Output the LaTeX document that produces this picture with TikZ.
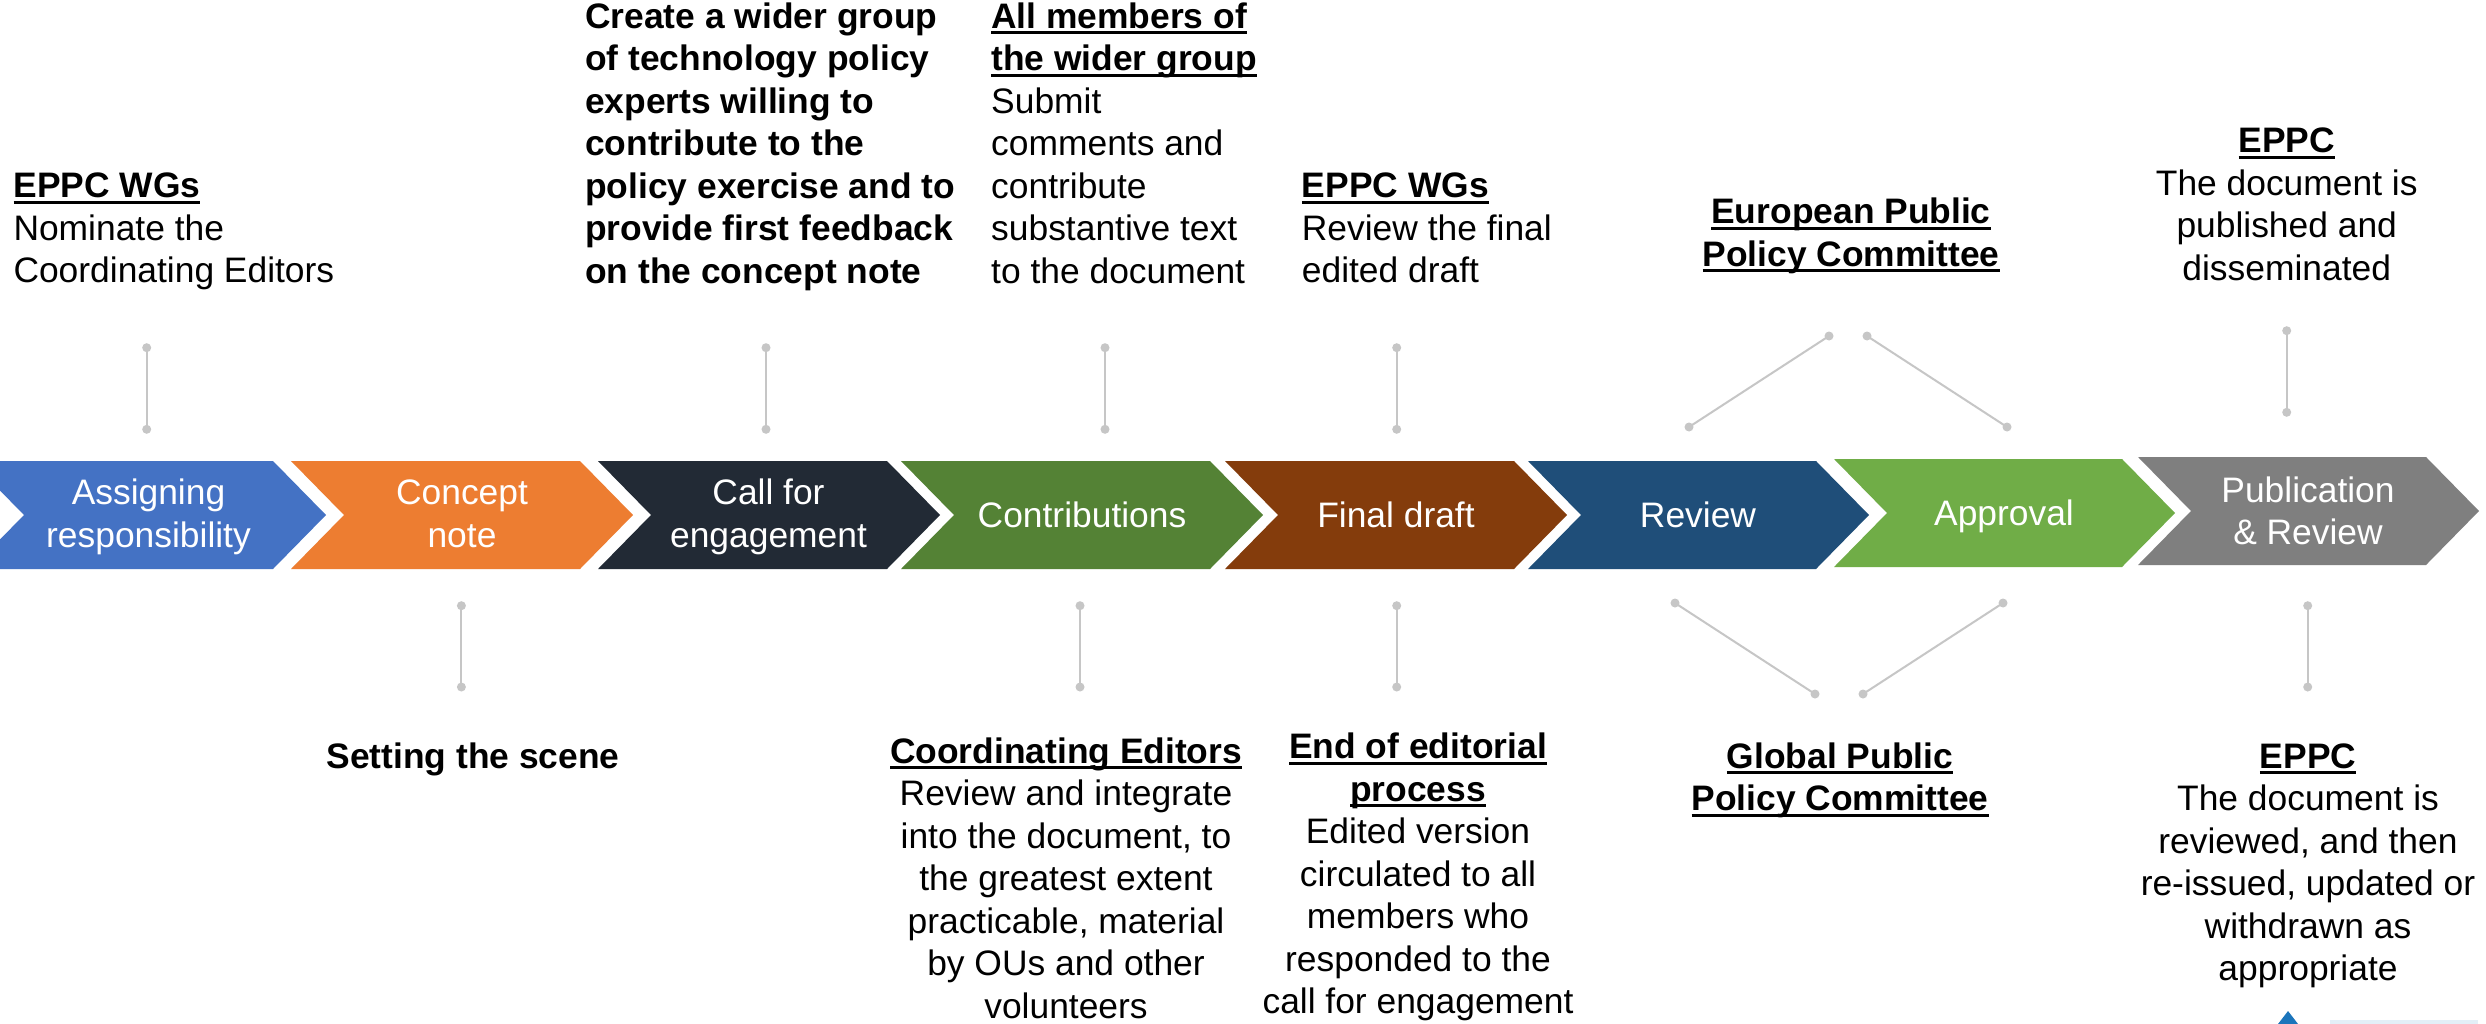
\documentclass[tikz,border=0pt]{standalone}
\usepackage{fontspec}
\setmainfont{Liberation Sans}
\usetikzlibrary{calc}
\definecolor{cblue}{HTML}{4472C4}
\definecolor{corange}{HTML}{ED7D31}
\definecolor{cnavy}{HTML}{222A35}
\definecolor{cgreen}{HTML}{548235}
\definecolor{cbrown}{HTML}{843C0C}
\definecolor{cdblue}{HTML}{1F4E79}
\definecolor{clgreen}{HTML}{70AD47}
\definecolor{cgray}{HTML}{7F7F7F}
\definecolor{linegray}{HTML}{C6C6C6}
\definecolor{logoblue}{HTML}{1B75BB}
\definecolor{logolight}{HTML}{E3EFF7}
\newsavebox\myulbox
\newcommand\myul[1]{\sbox\myulbox{#1}\rlap{\rule[-6pt]{\wd\myulbox}{3pt}}\usebox\myulbox}
\newcommand\mychev[6]{% L, R, T, B, colour, name
  \pgfmathsetmacro\mychevmid{(#3+#4)/2}%
  \fill[#5] (#1,#3) -- (#2,#3) -- (#2+53,\mychevmid) -- (#2,#4) -- (#1,#4) -- (#1+53,\mychevmid) -- cycle;%
  \coordinate (#6) at ({(#1+53+#2)/2},\mychevmid);}
\tikzset{
  lbl/.style={font=\fontsize{35.4}{42.5}\selectfont, inner sep=0pt, text=black},
  chevtext/.style={font=\fontsize{35.4}{42.5}\selectfont, inner sep=0pt, text=white, align=center, anchor=base},
  dot/.style={circle, fill=linegray, inner sep=0pt, minimum size=9pt},
  conn/.style={draw=linegray, line width=2pt},
}
\begin{document}
\begin{tikzpicture}[x=1pt,y=-1pt]
\clip (0,0) rectangle (2486,1023);
\fill[white] (0,0) rectangle (2486,1023);

% chevrons
\mychev{-29}{273}{461}{569}{cblue}{k1}
\mychev{291}{580}{461}{569}{corange}{k2}
\mychev{598}{887}{461}{569}{cnavy}{k3}
\mychev{901}{1210}{461}{569}{cgreen}{k4}
\mychev{1225}{1514}{461}{569}{cbrown}{k5}
\mychev{1528}{1816}{461}{569}{cdblue}{k6}
\mychev{1834}{2122}{459}{567}{clgreen}{k7}
\mychev{2138}{2426}{457}{565}{cgray}{k8}

% chevron texts (base = baseline of last line)
\node[chevtext] (t1) at (148.5,547) {Assigning\\responsibility};
\node[chevtext] (t2) at (462,547) {Concept\\note};
\node[chevtext] (t3) at (768.5,547) {Call for\\engagement};
\node[chevtext] (t4) at (1082,527.3) {Contributions};
\node[chevtext] (t5) at (1396,527.3) {Final draft};
\node[chevtext] (t6) at (1698,527.3) {Review};
\node[chevtext] (t7) at (2004,525.5) {Approval};
\node[chevtext] (t8) at (2308,544.5) {Publication\\\& Review};

% top labels
\node[lbl, anchor=base west, align=left] (a1) at (13.3,282.5)
  {\textbf{\myul{EPPC WGs}}\\Nominate the\\Coordinating Editors};
\node[lbl, anchor=base west, align=left, font=\fontsize{35.4}{42.5}\selectfont\bfseries] (a3) at (585,283.3)
  {Create a wider group\\of technology policy\\experts willing to\\contribute to the\\policy exercise and to\\provide first feedback\\on the concept note};
\node[lbl, anchor=base west, align=left] (a4) at (991,283.3)
  {\textbf{\myul{All members of}}\\\textbf{\myul{the wider group}}\\Submit\\comments and\\contribute\\substantive text\\to the document};
\node[lbl, anchor=base west, align=left] (a5) at (1301.7,282.5)
  {\textbf{\myul{EPPC WGs}}\\Review the final\\edited draft};
\node[lbl, anchor=base, align=center] (a7) at (1851,266)
  {\textbf{\myul{European Public}}\\\textbf{\myul{Policy Committee}}};
\node[lbl, anchor=base, align=center] (a8) at (2286.7,280)
  {\textbf{\myul{EPPC}}\\The document is\\published and\\disseminated};

% bottom labels
\node[lbl, anchor=base, align=center] (b2) at (473,768)
  {\textbf{Setting the scene}};
\node[lbl, anchor=base, align=center] (b4) at (1066,1018)
  {\textbf{\myul{Coordinating Editors}}\\Review and integrate\\into the document, to\\the greatest extent\\practicable, material\\by OUs and other\\volunteers};
\node[lbl, anchor=base, align=center] (b5) at (1418,1013.5)
  {\textbf{\myul{End of editorial}}\\\textbf{\myul{process}}\\Edited version\\circulated to all\\members who\\responded to the\\call for engagement};
\node[lbl, anchor=base, align=center] (b7) at (1840,810.5)
  {\textbf{\myul{Global Public}}\\\textbf{\myul{Policy Committee}}};
\node[lbl, anchor=base, align=center] (b8) at (2308,980.8)
  {\textbf{\myul{EPPC}}\\The document is\\reviewed, and then\\re-issued, updated or\\withdrawn as\\appropriate};

% connector dots
\node[dot] (c1u) at (146.7,347.7) {};  \node[dot] (c1d) at (146.7,429.3) {};
\node[dot] (c3u) at (766,347.7) {};    \node[dot] (c3d) at (766,429.3) {};
\node[dot] (c4u) at (1105,347.7) {};   \node[dot] (c4d) at (1105,429.3) {};
\node[dot] (c5u) at (1396.7,347.7) {}; \node[dot] (c5d) at (1396.7,429.3) {};
\node[dot] (c7a) at (1689,427) {};     \node[dot] (c7b) at (1829,336) {};
\node[dot] (c7c) at (1867,336) {};     \node[dot] (c7d) at (2007,427) {};
\node[dot] (c8u) at (2286.7,330.7) {}; \node[dot] (c8d) at (2286.7,412.3) {};

\node[dot] (d2u) at (461.4,605.7) {};  \node[dot] (d2d) at (461.4,687) {};
\node[dot] (d4u) at (1080,605.7) {};   \node[dot] (d4d) at (1080,687) {};
\node[dot] (d5u) at (1396.7,605.7) {}; \node[dot] (d5d) at (1396.7,687) {};
\node[dot] (d7a) at (1675,603) {};     \node[dot] (d7b) at (1815,694) {};
\node[dot] (d7c) at (1863,694) {};     \node[dot] (d7d) at (2003,603) {};
\node[dot] (d8u) at (2307.7,605.7) {}; \node[dot] (d8d) at (2307.7,687) {};

\draw[conn] (c1u.center) -- (c1d.center);
\draw[conn] (c3u.center) -- (c3d.center);
\draw[conn] (c4u.center) -- (c4d.center);
\draw[conn] (c5u.center) -- (c5d.center);
\draw[conn] (c7a.center) -- (c7b.center);
\draw[conn] (c7c.center) -- (c7d.center);
\draw[conn] (c8u.center) -- (c8d.center);
\draw[conn] (d2u.center) -- (d2d.center);
\draw[conn] (d4u.center) -- (d4d.center);
\draw[conn] (d5u.center) -- (d5d.center);
\draw[conn] (d7a.center) -- (d7b.center);
\draw[conn] (d7c.center) -- (d7d.center);
\draw[conn] (d8u.center) -- (d8d.center);

% logo fragment
\fill[logoblue] (2278,1024) -- (2288,1011) -- (2298,1024) -- cycle;
\fill[logolight] (2330,1020) rectangle (2478,1024);
\end{tikzpicture}
\end{document}
